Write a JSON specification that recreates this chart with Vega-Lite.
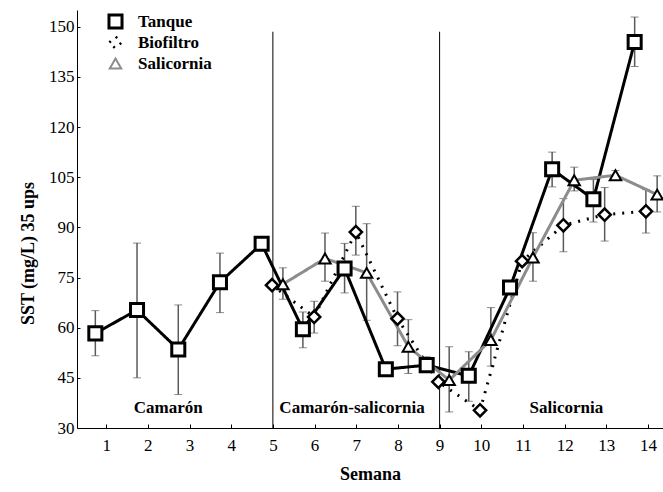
{
  "$schema": "https://vega.github.io/schema/vega-lite/v6.json",
  "width": 586,
  "height": 418,
  "autosize": {"type": "none"},
  "padding": {"left": 77, "top": 10, "right": 0, "bottom": 64},
  "config": {
    "font": "Liberation Serif",
    "view": {"stroke": null},
    "axis": {
      "grid": false,
      "domainColor": "black",
      "tickColor": "black",
      "labelColor": "black",
      "titleColor": "black",
      "labelFont": "Liberation Serif",
      "titleFont": "Liberation Serif",
      "labelFontSize": 17,
      "titleFontSize": 18,
      "titleFontWeight": "bold",
      "labelFlush": false
    },
    "axisX": {"tickSize": -4, "labelPadding": 13, "titlePadding": 12},
    "axisY": {"tickSize": -3, "labelPadding": 6, "titlePadding": 11}
  },
  "datasets": {
    "sst": [
      {"serie": "Tanque", "semana": 0.74, "sst": 58.3, "lo": 51.6, "hi": 65.1},
      {"serie": "Tanque", "semana": 1.74, "sst": 65.3, "lo": 45.0, "hi": 85.3},
      {"serie": "Tanque", "semana": 2.73, "sst": 53.5, "lo": 40.0, "hi": 66.8},
      {"serie": "Tanque", "semana": 3.73, "sst": 73.6, "lo": 64.5, "hi": 82.3},
      {"serie": "Tanque", "semana": 4.73, "sst": 85.1, "lo": null, "hi": null},
      {"serie": "Tanque", "semana": 5.72, "sst": 59.5, "lo": 54.0, "hi": 64.7},
      {"serie": "Tanque", "semana": 6.72, "sst": 77.7, "lo": 70.4, "hi": 85.2},
      {"serie": "Tanque", "semana": 7.71, "sst": 47.6, "lo": null, "hi": null},
      {"serie": "Tanque", "semana": 8.69, "sst": 48.8, "lo": 47.1, "hi": 51.3},
      {"serie": "Tanque", "semana": 9.70, "sst": 45.6, "lo": 38.0, "hi": 52.8},
      {"serie": "Tanque", "semana": 10.69, "sst": 72.0, "lo": null, "hi": null},
      {"serie": "Tanque", "semana": 11.70, "sst": 107.4, "lo": 102.1, "hi": 112.5},
      {"serie": "Tanque", "semana": 12.69, "sst": 98.4, "lo": 91.6, "hi": 104.3},
      {"serie": "Tanque", "semana": 13.68, "sst": 145.4, "lo": 138.1, "hi": 152.9},
      {"serie": "Biofiltro", "semana": 4.98, "sst": 72.7, "lo": null, "hi": null},
      {"serie": "Biofiltro", "semana": 5.99, "sst": 63.2, "lo": 58.4, "hi": 67.9},
      {"serie": "Biofiltro", "semana": 6.99, "sst": 88.6, "lo": 81.7, "hi": 96.3},
      {"serie": "Biofiltro", "semana": 7.99, "sst": 62.7, "lo": 54.6, "hi": 70.7},
      {"serie": "Biofiltro", "semana": 8.97, "sst": 43.8, "lo": null, "hi": null},
      {"serie": "Biofiltro", "semana": 9.97, "sst": 35.3, "lo": null, "hi": null},
      {"serie": "Biofiltro", "semana": 10.98, "sst": 79.9, "lo": null, "hi": null},
      {"serie": "Biofiltro", "semana": 11.97, "sst": 90.6, "lo": 82.7, "hi": 98.6},
      {"serie": "Biofiltro", "semana": 12.96, "sst": 93.8, "lo": 85.9, "hi": 101.9},
      {"serie": "Biofiltro", "semana": 13.95, "sst": 94.8, "lo": 88.3, "hi": 101.3},
      {"serie": "Salicornia", "semana": 5.24, "sst": 73.0, "lo": 68.5, "hi": 77.9},
      {"serie": "Salicornia", "semana": 6.25, "sst": 80.7, "lo": 73.9, "hi": 88.3},
      {"serie": "Salicornia", "semana": 7.25, "sst": 76.4, "lo": 62.2, "hi": 91.1},
      {"serie": "Salicornia", "semana": 8.25, "sst": 54.3, "lo": 46.3, "hi": 62.4},
      {"serie": "Salicornia", "semana": 9.23, "sst": 44.3, "lo": 34.8, "hi": 54.3},
      {"serie": "Salicornia", "semana": 10.23, "sst": 56.3, "lo": 48.5, "hi": 66.0},
      {"serie": "Salicornia", "semana": 11.24, "sst": 81.0, "lo": 73.9, "hi": 88.4},
      {"serie": "Salicornia", "semana": 12.23, "sst": 104.1, "lo": 100.9, "hi": 108.0},
      {"serie": "Salicornia", "semana": 13.22, "sst": 105.6, "lo": 104.5, "hi": 107.0},
      {"serie": "Salicornia", "semana": 14.22, "sst": 99.8, "lo": 94.6, "hi": 105.4}
    ],
    "fases": [
      {"semana": 5, "desde": 30, "hasta": 148.5},
      {"semana": 9, "desde": 30, "hasta": 148.5}
    ],
    "etiquetas": [
      {"semana": 2.49, "sst": 36.0, "texto": "Camarón"},
      {"semana": 6.9, "sst": 36.0, "texto": "Camarón-salicornia"},
      {"semana": 12.04, "sst": 36.0, "texto": "Salicornia"}
    ]
  },
  "layer": [
    {
      "data": {"name": "fases"},
      "mark": {"type": "rule", "color": "black", "strokeWidth": 1},
      "encoding": {
        "x": {"field": "semana", "type": "quantitative", "scale": {"domain": [0.3, 14.36], "nice": false, "zero": false},
          "axis": {"values": [1,2,3,4,5,6,7,8,9,10,11,12,13,14], "title": "Semana"}},
        "y": {"field": "desde", "type": "quantitative", "scale": {"domain": [30, 155], "nice": false, "zero": false},
          "axis": {"values": [30,45,60,75,90,105,120,135,150], "title": "SST (mg/L) 35 ups", "titleY": 243}},
        "y2": {"field": "hasta"}
      }
    },
    {
      "data": {"name": "sst"},
      "transform": [{"filter": "datum.lo != null"}],
      "mark": {"type": "errorbar", "ticks": {"size": 8, "color": "#5a5a5a"}, "rule": {"color": "#5a5a5a", "strokeWidth": 1.5}},
      "encoding": {
        "x": {"field": "semana", "type": "quantitative"},
        "y": {"field": "lo", "type": "quantitative", "title": "SST (mg/L) 35 ups"},
        "y2": {"field": "hi"}
      }
    },
    {
      "data": {"name": "sst"},
      "mark": {"type": "line", "strokeWidth": 3},
      "encoding": {
        "x": {"field": "semana", "type": "quantitative"},
        "y": {"field": "sst", "type": "quantitative", "title": "SST (mg/L) 35 ups"},
        "color": {"field": "serie", "type": "nominal", "sort": ["Tanque", "Biofiltro", "Salicornia"],
          "scale": {"domain": ["Tanque", "Biofiltro", "Salicornia"], "range": ["#000000", "#000000", "#8c8c8c"]},
          "legend": {"title": null, "orient": "none", "legendX": 30, "legendY": 2, "labelFontSize": 17, "labelFontWeight": "bold", "labelFont": "Liberation Serif", "labelColor": "black", "rowPadding": 2, "clipHeight": 19, "labelOffset": 14, "symbolSize": 150,
            "encode": {"symbols": {"update": {"fill": {"value": "white"}, "stroke": {"value": "black"}, "strokeWidth": {"value": 2}}}}}},
        "strokeDash": {"field": "serie", "type": "nominal",
          "scale": {"domain": ["Tanque", "Biofiltro", "Salicornia"], "range": [[1, 0], [2, 7], [1, 0]]},
          "legend": null},
        "strokeWidth": {"field": "serie", "type": "nominal",
          "scale": {"domain": ["Tanque", "Biofiltro", "Salicornia"], "range": [3, 2, 3]},
          "legend": null}
      }
    },
    {
      "data": {"name": "sst"},
      "mark": {"type": "point", "filled": true, "fill": "white", "stroke": "black", "strokeWidth": 2, "opacity": 1},
      "encoding": {
        "x": {"field": "semana", "type": "quantitative"},
        "y": {"field": "sst", "type": "quantitative", "title": "SST (mg/L) 35 ups"},
        "shape": {"field": "serie", "type": "nominal",
          "scale": {"domain": ["Tanque", "Biofiltro", "Salicornia"], "range": ["square", "diamond", "triangle-up"]},
          "legend": {"title": null, "orient": "none", "legendX": 30, "legendY": 2, "labelFontSize": 17, "labelFontWeight": "bold", "labelFont": "Liberation Serif", "labelColor": "black", "rowPadding": 2, "clipHeight": 19, "labelOffset": 14, "symbolSize": 150,
            "encode": {"symbols": {"update": {"fill": {"value": "white"}, "stroke": {"value": "black"}, "strokeWidth": {"value": 2}}}}}},
        "size": {"field": "serie", "type": "nominal",
          "scale": {"domain": ["Tanque", "Biofiltro", "Salicornia"], "range": [170, 130, 150]},
          "legend": null},
        "strokeWidth": {"field": "serie", "type": "nominal",
          "scale": {"domain": ["Tanque", "Biofiltro", "Salicornia"], "range": [2, 1.5, 2]},
          "legend": null}
      }
    },
    {
      "data": {"name": "etiquetas"},
      "mark": {"type": "text", "font": "Liberation Serif", "fontSize": 17, "fontWeight": "bold", "color": "black", "align": "center", "baseline": "middle"},
      "encoding": {
        "x": {"field": "semana", "type": "quantitative"},
        "y": {"field": "sst", "type": "quantitative"},
        "text": {"field": "texto", "type": "nominal"}
      }
    }
  ]
}
